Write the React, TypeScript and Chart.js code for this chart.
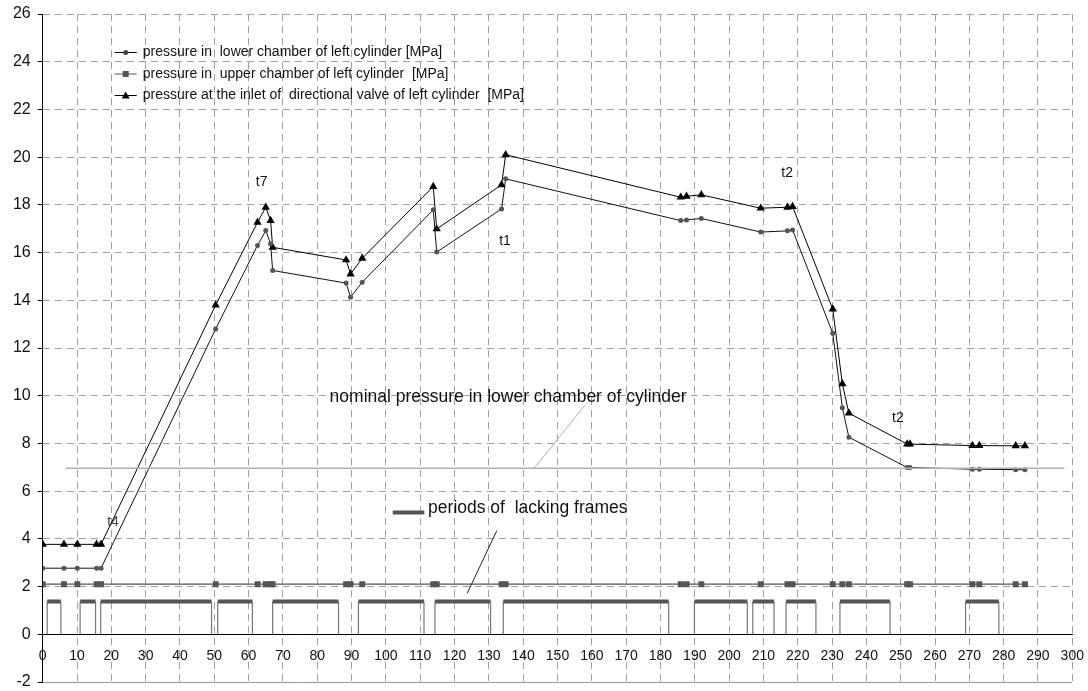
import React, { useEffect, useRef } from "react";
import { Chart, registerables } from "chart.js";

Chart.register(...registerables);

// time [s]
const timeS = [0, 6.2, 10.1, 15.7, 17, 50.4, 62.6, 65, 66.4, 67, 88.4, 89.7, 93.1, 113.8, 114.8, 133.7, 134.9, 185.9, 187.6, 191.9, 209.2, 217, 218.5, 230.2, 233, 234.9, 251.9, 252.7, 270.9, 272.9, 283.5, 286.2];
// pressure in lower chamber of left cylinder [MPa]
const lowerChamber = [2.77, 2.77, 2.77, 2.77, 2.77, 12.8, 16.3, 16.92, 16.37, 15.25, 14.72, 14.13, 14.76, 17.79, 16.02, 17.83, 19.09, 17.34, 17.37, 17.43, 16.86, 16.91, 16.95, 12.62, 9.5, 8.26, 6.99, 6.99, 6.92, 6.92, 6.9, 6.9];
// pressure in upper chamber of left cylinder [MPa]
const upperChamber = [2.1, 2.1, 2.1, 2.1, 2.1, 2.1, 2.1, 2.1, 2.1, 2.1, 2.1, 2.1, 2.1, 2.1, 2.1, 2.1, 2.1, 2.1, 2.1, 2.1, 2.1, 2.1, 2.1, 2.1, 2.1, 2.1, 2.1, 2.1, 2.1, 2.1, 2.1, 2.1];
// pressure at the inlet of directional valve of left cylinder [MPa]
const valveInlet = [3.77, 3.77, 3.77, 3.77, 3.77, 13.8, 17.27, 17.9, 17.34, 16.22, 15.69, 15.1, 15.76, 18.77, 16.99, 18.84, 20.1, 18.32, 18.36, 18.42, 17.86, 17.9, 17.93, 13.63, 10.5, 9.27, 7.97, 7.97, 7.91, 7.91, 7.9, 7.9];

// nominal pressure in lower chamber of cylinder
const nominalX = [6.7, 297.7];
const nominalP = [6.96, 6.96];

// periods of lacking frames
const frameStart = [1.3, 10.9, 16.9, 51.0, 67.0, 92.0, 114.3, 134.2, 189.9, 206.9, 216.6, 232.3, 268.9];
const frameEnd = [5.3, 15.4, 49.2, 61.1, 86.2, 111.1, 130.5, 182.4, 205.3, 213.1, 225.3, 246.9, 278.6];
const frameLevel = 1.37;

// pointer lines (data coords)
const nominalPointerX = [158.0, 143.2];
const nominalPointerY = [9.6, 6.96];
const framePointerX = [132.3, 123.7];
const framePointerY = [4.34, 1.72];
const frameSwatchX = [102.0, 111.2];
const frameSwatchY = [5.11, 5.11];

const legendLabels = [
  "pressure in  lower chamber of left cylinder [MPa]",
  "pressure in  upper chamber of left cylinder  [MPa]",
  "pressure at the inlet of  directional valve of left cylinder  [MPa]",
];

const noteTexts = ["t4", "t7", "t1", "t2", "t2"];
const noteX = [20.5, 63.8, 134.7, 216.9, 249.2];
const noteY = [4.71, 18.96, 16.5, 19.34, 9.07];

const FONT = "'Liberation Sans', Arial, Helvetica, sans-serif";

const toXY = (xs: number[], ys: number[]) => xs.map((x, i) => ({ x, y: ys[i] }));

function buildFrames() {
  const pts: { x: number; y: number | null }[] = [];
  frameStart.forEach((s, i) => {
    const e = frameEnd[i];
    pts.push({ x: s, y: 0 }, { x: s, y: frameLevel }, { x: e, y: frameLevel }, { x: e, y: 0 });
    pts.push({ x: e, y: null });
  });
  return pts;
}

const annotationPlugin = {
  id: "annot",
  afterDatasetsDraw(chart: any) {
    const ctx = chart.ctx;
    const xs = chart.scales.x;
    const ys = chart.scales.y;
    ctx.save();
    // notes
    ctx.font = `14px ${FONT}`;
    ctx.textAlign = "center";
    ctx.textBaseline = "middle";
    noteTexts.forEach((t, i) => {
      ctx.fillStyle = t === "t4" ? "#444" : "#111";
      ctx.fillText(t, xs.getPixelForValue(noteX[i]), ys.getPixelForValue(noteY[i]));
    });
    // nominal text
    ctx.fillStyle = "#111";
    ctx.font = `17.5px ${FONT}`;
    ctx.fillText("nominal pressure in lower chamber of cylinder", xs.getPixelForValue(135.6), ys.getPixelForValue(9.95));
    ctx.textAlign = "left";
    ctx.fillText("periods of  lacking frames", xs.getPixelForValue(112.3), ys.getPixelForValue(5.3));

    // legend
    const a = chart.chartArea;
    const lx0 = a.left + 72;
    const lx1 = a.left + 94;
    const tx = a.left + 100;
    const ly = [a.top + 38.5, a.top + 60, a.top + 81.5];
    ctx.font = `14px ${FONT}`;
    ctx.textBaseline = "middle";
    ly.forEach((y, i) => {
      ctx.strokeStyle = i === 1 ? "#555" : "#000";
      ctx.lineWidth = 1;
      ctx.beginPath();
      ctx.moveTo(lx0, y);
      ctx.lineTo(lx1, y);
      ctx.stroke();
      const cx = (lx0 + lx1) / 2;
      if (i === 0) {
        ctx.fillStyle = "#444";
        ctx.beginPath();
        ctx.arc(cx, y, 2.5, 0, Math.PI * 2);
        ctx.fill();
      } else if (i === 1) {
        ctx.fillStyle = "#555";
        ctx.fillRect(cx - 3, y - 3, 6, 6);
      } else {
        ctx.fillStyle = "#000";
        ctx.beginPath();
        ctx.moveTo(cx, y - 4);
        ctx.lineTo(cx + 4, y + 3);
        ctx.lineTo(cx - 4, y + 3);
        ctx.closePath();
        ctx.fill();
      }
      ctx.fillStyle = "#111";
      ctx.fillText(legendLabels[i], tx, y);
    });
    ctx.restore();
  },
};

export default function App() {
  const ref = useRef<HTMLCanvasElement | null>(null);
  useEffect(() => {
    document.body.style.margin = "0";
    document.body.style.overflow = "hidden";
    if (!ref.current) return;
    const chart = new Chart(ref.current, {
      type: "line",
      data: {
        datasets: [
          {
            label: "frames",
            data: buildFrames() as any,
            borderColor: "#666",
            borderWidth: 1.2,
            pointRadius: 0,
            spanGaps: false,
            segment: {
              borderWidth: (c: any) => (c.p0.parsed.y > 0.5 && c.p1.parsed.y > 0.5 ? 4 : 1.2),
              borderColor: (c: any) => (c.p0.parsed.y > 0.5 && c.p1.parsed.y > 0.5 ? "#555" : "#777"),
            },
          },
          {
            label: "frameSwatch",
            data: toXY(frameSwatchX, frameSwatchY),
            borderColor: "#555",
            borderWidth: 4,
            pointRadius: 0,
          },
          {
            label: "framePointer",
            data: toXY(framePointerX, framePointerY),
            borderColor: "#222",
            borderWidth: 1,
            pointRadius: 0,
          },
          {
            label: "nominal",
            data: toXY(nominalX, nominalP),
            borderColor: "#b0b0b0",
            borderWidth: 1.3,
            pointRadius: 0,
          },
          {
            label: "nominalPointer",
            data: toXY(nominalPointerX, nominalPointerY),
            borderColor: "#b0b0b0",
            borderWidth: 1,
            pointRadius: 0,
          },
          {
            label: legendLabels[1],
            data: toXY(timeS, upperChamber),
            borderColor: "#555",
            borderWidth: 1.2,
            pointStyle: "rect",
            pointRadius: 4.2,
            pointBackgroundColor: "#555",
            pointBorderColor: "#555",
            pointBorderWidth: 0,
          },
          {
            label: legendLabels[0],
            data: toXY(timeS, lowerChamber),
            borderColor: "#111",
            borderWidth: 1,
            pointStyle: "circle",
            pointRadius: 2.5,
            pointBackgroundColor: "#555",
            pointBorderColor: "#555",
            pointBorderWidth: 0,
          },
          {
            label: legendLabels[2],
            data: toXY(timeS, valveInlet),
            borderColor: "#000",
            borderWidth: 1,
            pointStyle: "triangle",
            pointRadius: 4.8,
            pointBackgroundColor: "#000",
            pointBorderColor: "#000",
            pointBorderWidth: 0,
          },
        ],
      },
      options: {
        animation: false,
        responsive: false,
        events: [],
        layout: { padding: { left: 0, right: 15.7, top: 14, bottom: 9 } },
        plugins: { legend: { display: false }, tooltip: { enabled: false } },
        elements: { line: { tension: 0 } },
        scales: {
          x: {
            type: "linear",
            min: 0,
            max: 300,
            position: { y: 0 } as any,
            afterFit: (s: any) => {
              s.height = 0;
              s.paddingLeft = 0;
              s.paddingRight = 0;
              s.paddingTop = 0;
              s.paddingBottom = 0;
            },
            ticks: {
              stepSize: 10,
              padding: 13.5,
              color: "#111",
              font: { family: FONT, size: 14 },
              maxRotation: 0,
              autoSkip: false,
            },
            grid: {
              color: "#a0a0a0",
              lineWidth: 1,
              drawTicks: false,
            },
            border: { display: true, color: "#000", width: 1, dash: [7, 5] },
          },
          y: {
            type: "linear",
            min: -2,
            max: 26,
            afterFit: (s: any) => {
              s.width = 42.7;
              s.paddingLeft = 0;
              s.paddingRight = 0;
              s.paddingTop = 0;
              s.paddingBottom = 0;
            },
            ticks: {
              stepSize: 2,
              padding: 7,
              color: "#111",
              font: { family: FONT, size: 16 },
            },
            grid: {
              color: (c: any) => (c.tick && c.tick.value === -2 ? "#999" : "#a0a0a0"),
              lineWidth: 1,
              drawTicks: true,
              tickLength: 5,
              tickColor: "#000",
              tickBorderDash: [],
            } as any,
            border: {
              display: true,
              color: "#000",
              width: 1,
              dash: (c: any) => (c.tick && c.tick.value === -2 ? [] : [7, 5]),
            } as any,
          },
        },
      },
      plugins: [annotationPlugin],
    });
    return () => chart.destroy();
  }, []);
  return (
    <div style={{ width: 1088, height: 691 }}>
      <canvas ref={ref} width={1088} height={691} />
    </div>
  );
}
